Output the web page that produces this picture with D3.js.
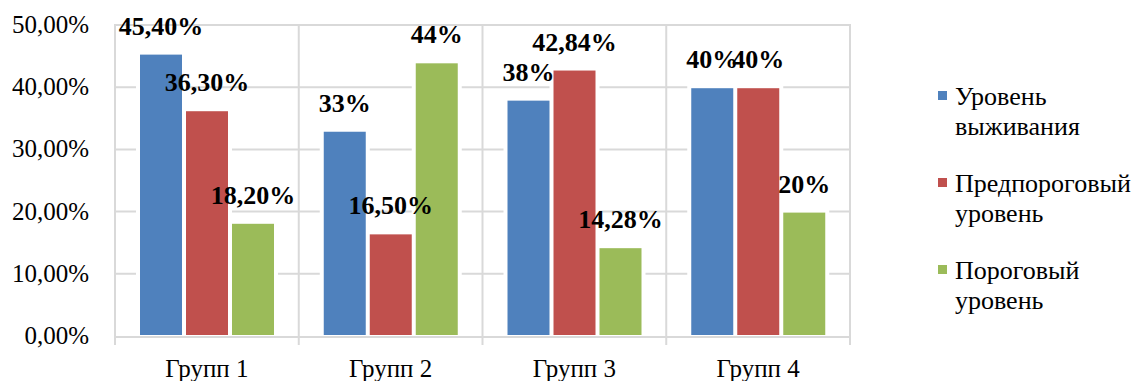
<!DOCTYPE html>
<html lang="ru">
<head>
<meta charset="utf-8">
<script src="https://cdn.jsdelivr.net/npm/d3@7"></script>
<style>
  html, body { margin: 0; padding: 0; background: #fff; }
  svg { display: block; }
</style>
</head>
<body>
<svg id="chart" width="1139" height="381"></svg>
<script>
// Categories and series
const groups = ["Групп 1", "Групп 2", "Групп 3", "Групп 4"];
const seriesNames = ["Уровень выживания", "Предпороговый уровень", "Пороговый уровень"];
const legendLines = [["Уровень", "выживания"], ["Предпороговый", "уровень"], ["Пороговый", "уровень"]];
const seriesColors = ["#4f81bd", "#c0504d", "#9bbb59"];

// Values in percent, one array per series (ordered by group)
const survival = [45.4, 33, 38, 40];
const preThreshold = [36.3, 16.5, 42.84, 40];
const threshold = [18.2, 44, 14.28, 20];
const seriesValues = [survival, preThreshold, threshold];

// Y axis ticks
const yTicks = [0, 10, 20, 30, 40, 50];

const FONT = "'Liberation Serif', 'Times New Roman', serif";

const svg = d3.select("#chart").attr("font-family", FONT);

const plot = { left: 115, right: 850, top: 25, bottom: 336 };
const grid = "#d9d9d9";

const x = d3.scaleBand().domain(groups).range([plot.left, plot.right]).padding(0);
const xs = d3.scaleBand().domain(seriesNames).range([24, 160]).paddingInner(2 / 46).paddingOuter(0);
const y = d3.scaleLinear().domain([0, 50]).range([plot.bottom, plot.top]);

const pct = v => (Number.isInteger(v) ? String(v) : v.toFixed(2).replace(".", ",")) + "%";
const tickFmt = v => v.toFixed(2).replace(".", ",") + "%";

// Horizontal gridlines
svg.append("g").selectAll("line").data(yTicks.filter(t => t > 0)).join("line")
  .attr("x1", plot.left).attr("x2", plot.right)
  .attr("y1", d => y(d)).attr("y2", d => y(d))
  .attr("stroke", grid).attr("stroke-width", 2);

// Vertical gridlines at the group boundaries (also act as ticks below the axis)
const bounds = groups.map(g => x(g)).concat([plot.right]);
svg.append("g").selectAll("line").data(bounds).join("line")
  .attr("x1", d => d).attr("x2", d => d)
  .attr("y1", plot.top - 1).attr("y2", plot.bottom + 9)
  .attr("stroke", grid).attr("stroke-width", 2);

// Flatten into bar records
const bars = [];
groups.forEach((g, gi) => {
  seriesNames.forEach((s, si) => {
    bars.push({ g, s, si, v: seriesValues[si][gi] });
  });
});

// White surround that clears gridlines next to each column
svg.append("g").selectAll("rect").data(bars).join("rect")
  .attr("x", d => x(d.g) + xs(d.s) - 3)
  .attr("y", d => y(d.v) - 3)
  .attr("width", xs.bandwidth() + 6)
  .attr("height", d => y(0) - y(d.v) + 2)
  .attr("fill", "#fff");

// Columns
svg.append("g").selectAll("rect").data(bars).join("rect")
  .attr("x", d => x(d.g) + xs(d.s))
  .attr("y", d => y(d.v))
  .attr("width", xs.bandwidth())
  .attr("height", d => y(0) - y(d.v))
  .attr("fill", d => seriesColors[d.si])
  .attr("stroke", "#fff").attr("stroke-width", 2);

// Baseline
svg.append("line")
  .attr("x1", plot.left).attr("x2", plot.right)
  .attr("y1", y(0) + 1).attr("y2", y(0) + 1)
  .attr("stroke", grid).attr("stroke-width", 2);

// Y tick labels
svg.append("g").selectAll("text").data(yTicks).join("text")
  .attr("x", 89).attr("y", d => y(d) + 8)
  .attr("text-anchor", "end")
  .attr("font-family", FONT)
  .attr("font-size", 25)
  .attr("fill", "#000")
  .text(tickFmt);

// Category labels
svg.append("g").selectAll("text").data(groups).join("text")
  .attr("x", d => x(d) + x.bandwidth() / 2)
  .attr("y", 377)
  .attr("text-anchor", "middle")
  .attr("font-family", FONT)
  .attr("font-size", 25)
  .attr("fill", "#000")
  .text(d => d);

// Value labels
svg.append("g").selectAll("text").data(bars).join("text")
  .attr("x", d => x(d.g) + xs(d.s) + xs.bandwidth() / 2)
  .attr("y", d => y(d.v) - 19)
  .attr("text-anchor", "middle")
  .attr("font-family", FONT)
  .attr("font-size", 26)
  .attr("font-weight", "bold")
  .attr("fill", "#000")
  .text(d => pct(d.v));

// Legend
const legend = svg.append("g").selectAll("g").data(seriesNames).join("g")
  .attr("transform", (d, i) => `translate(938, ${105 + i * 87})`);
legend.append("rect")
  .attr("x", 0).attr("y", -14).attr("width", 9).attr("height", 9)
  .attr("fill", (d, i) => seriesColors[i]);
legend.append("text")
  .attr("x", 17).attr("y", 0)
  .attr("font-family", FONT)
  .attr("font-size", 26)
  .attr("fill", "#000")
  .selectAll("tspan").data((d, i) => legendLines[i]).join("tspan")
  .attr("x", 17).attr("dy", (d, j) => j === 0 ? 0 : 30)
  .text(d => d);
</script>
</body>
</html>
